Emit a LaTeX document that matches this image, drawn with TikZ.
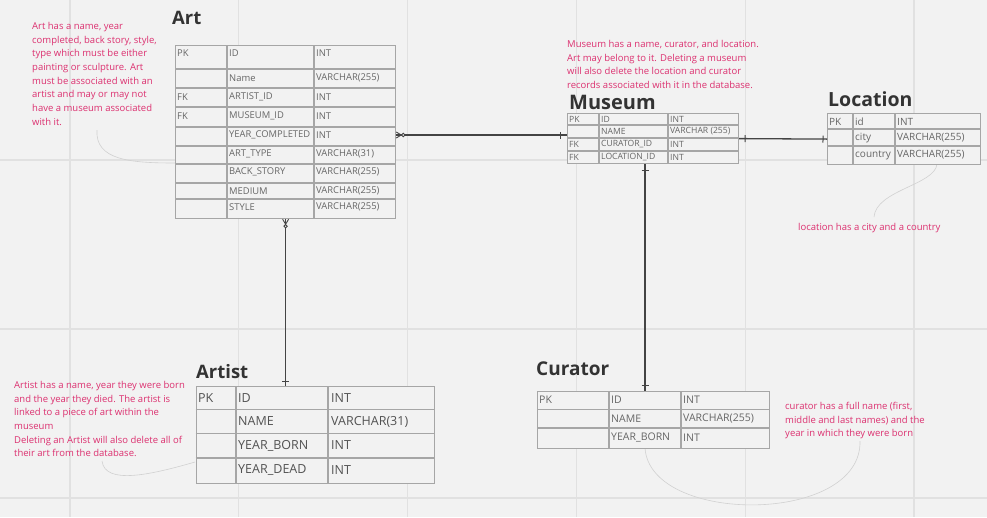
\documentclass[tikz,border=0pt]{standalone}
\usepackage{fontspec}
\setmainfont{Open Sans}
\usepackage{tikz}
\usetikzlibrary{decorations.markings}
\definecolor{bgc}{HTML}{F2F2F2}
\definecolor{gridc}{HTML}{E1E1E1}
\definecolor{tblc}{HTML}{A6A6A6}
\definecolor{txtc}{HTML}{666666}
\definecolor{notec}{HTML}{DC3170}
\definecolor{linkc}{HTML}{444444}
\definecolor{titlec}{HTML}{333333}
\newcommand\fsz[2]{\fontsize{#1}{#2}\selectfont}

\begin{document}
\begin{tikzpicture}[x=1pt, y=-1pt,
  gridl/.style={gridc, line width=1.2pt},
  tbl/.style={draw=tblc, fill=bgc, line width=1.2pt, anchor=north west},
  tline/.style={tblc, line width=1.2pt},
  cell/.style={anchor=west, inner sep=0pt, text=txtc, font=\fsz{#1}{12}},
  title/.style={anchor=west, inner sep=0pt, text=titlec, font=\bfseries\fsz{#1}{24}},
  note/.style={anchor=north west, inner sep=0pt, align=left, text=notec, font=\fsz{9.5}{13.7}},
  noteline/.style={draw=black!18, line width=0.6pt},
  link/.style={linkc, line width=1.3pt},
  onebar/.style={postaction={decorate, decoration={markings,
      mark=at position #1 with {\draw[linkc, line width=1pt] (0pt,-3.5pt) -- (0pt,3.5pt);}}}},
  crowzero/.style={postaction={decorate, decoration={markings,
      mark=at position 0.01pt with {
        \draw[linkc, line width=0.9pt] (5pt,0pt) -- (0pt,3pt) (5pt,0pt) -- (0pt,-3pt);
        \draw[linkc, line width=0.9pt, fill=bgc] (7pt,0pt) circle (1.7pt);}}}}]

  % canvas and grid
  \fill[bgc] (0,0) rectangle (987,517);
  \useasboundingbox (0,0) rectangle (987,517);
  \foreach \x in {70,238.8,407.6,576.4,745.2,914}
    \draw[gridl] (\x,0) -- (\x,517);
  \foreach \y in {160,329,498}
    \draw[gridl] (0,\y) -- (987,\y);

  % notes
  \node[note] (artnote) at (32,22) {Art has a name, year\\completed, back story, style,\\type which must be either\\painting or sculpture. Art\\must be associated with an\\artist and may or may not\\have a museum associated\\with it.};
  \node[note] (museumnote) at (567,40) {Museum has a name, curator, and location.\\Art may belong to it. Deleting a museum\\will also delete the location and curator\\records associated with it in the database.};
  \node[note] (locnote) at (798,223) {location has a city and a country};
  \node[note] (artistnote) at (14,381) {Artist has a name, year they were born\\and the year they died. The artist is\\linked to a piece of art within the\\museum\\Deleting an Artist will also delete all of\\their art from the database.};
  \node[note] (curatornote) at (785,402) {curator has a full name (first,\\middle and last names) and the\\year in which they were born};

  % note leaders
  \draw[noteline] (97,130) .. controls (95,160) and (130,163) .. (175,163);
  \draw[noteline] (102,461) .. controls (105,485) and (150,475) .. (195,462);
  \draw[noteline] (874,217) .. controls (876,190) and (935,185) .. (937,164);
  \draw[noteline] (645,448) .. controls (650,525) and (862,525) .. (860,441);

  % Art
  \node[title=18.5] (arttitle) at (172,18) {Art};
  \node[tbl, minimum width=220pt, minimum height=173pt] (art) at (175,45) {};
  \foreach \y in {69,88,107,127,146,164,183,199}
    \draw[tline] (175,\y) -- (395,\y);
  \foreach \x in {227,314}
    \draw[tline] (\x,45) -- (\x,218);
  \foreach \y/\k/\f/\t [count=\i] in {53/PK/ID/INT, 78//Name/VARCHAR(255),
      97/FK/ARTIST\_ID/INT, 116/FK/MUSEUM\_ID/INT, 135//YEAR\_COMPLETED/INT,
      154//ART\_TYPE/VARCHAR(31), 172//BACK\_STORY/VARCHAR(255),
      191//MEDIUM/VARCHAR(255), 207//STYLE/VARCHAR(255)}{
    \node[cell=9.4] (art-k\i) at (177,\y) {\k};
    \node[cell=9.4] (art-f\i) at (229,\y) {\f};
    \node[cell=9.4] (art-t\i) at (316,\y) {\t};
  }

  % Museum
  \node[title=20] (museumtitle) at (569,102) {Museum};
  \node[tbl, minimum width=171pt, minimum height=50pt] (museum) at (567,113) {};
  \foreach \y in {125,138,151}
    \draw[tline] (567,\y) -- (738,\y);
  \foreach \x in {599,668}
    \draw[tline] (\x,113) -- (\x,163);
  \foreach \y/\k/\f/\t [count=\i] in {119/PK/ID/INT, 131.5//NAME/VARCHAR (255),
      144.5/FK/CURATOR\_ID/INT, 157.5/FK/LOCATION\_ID/INT}{
    \node[cell=8.6] (museum-k\i) at (569,\y) {\k};
    \node[cell=8.6] (museum-f\i) at (601,\y) {\f};
    \node[cell=8.6] (museum-t\i) at (670,\y) {\t};
  }

  % Location
  \node[title=19.5] (locationtitle) at (828,99) {Location};
  \node[tbl, minimum width=153pt, minimum height=51pt] (location) at (827,113) {};
  \foreach \y in {129,146}
    \draw[tline] (827,\y) -- (980,\y);
  \foreach \x in {853,895}
    \draw[tline] (\x,113) -- (\x,164);
  \foreach \y/\k/\f/\t [count=\i] in {121.5/PK/id/INT, 138//city/VARCHAR(255),
      155//country/VARCHAR(255)}{
    \node[cell=10] (location-k\i) at (829,\y) {\k};
    \node[cell=10] (location-f\i) at (855,\y) {\f};
    \node[cell=10] (location-t\i) at (897,\y) {\t};
  }

  % Artist
  \node[title=18.5] (artisttitle) at (196,372) {Artist};
  \node[tbl, minimum width=238.5pt, minimum height=96.5pt] (artist) at (195.5,386) {};
  \foreach \y in {409.5,433.5,458}
    \draw[tline] (195.5,\y) -- (434,\y);
  \foreach \x in {236,328}
    \draw[tline] (\x,386) -- (\x,482.5);
  \foreach \y/\k/\f/\t [count=\i] in {398/PK/ID/INT, 421.5//NAME/VARCHAR(31),
      445.5//YEAR\_BORN/INT, 470//YEAR\_DEAD/INT}{
    \node[cell=12.5, text=black!68] (artist-k\i) at (198,\y) {\k};
    \node[cell=12.5, text=black!68] (artist-f\i) at (238,\y) {\f};
    \node[cell=12.5, text=black!68] (artist-t\i) at (331,\y) {\t};
  }

  % Curator
  \node[title=19] (curatortitle) at (536,369) {Curator};
  \node[tbl, minimum width=232pt, minimum height=56.5pt] (curator) at (537,391) {};
  \foreach \y in {409.5,428}
    \draw[tline] (537,\y) -- (769,\y);
  \foreach \x in {609,681}
    \draw[tline] (\x,391) -- (\x,447.5);
  \foreach \y/\k/\f/\t [count=\i] in {400/PK/ID/INT, 418.5//NAME/VARCHAR(255),
      437.5//YEAR\_BORN/INT}{
    \node[cell=10.5] (curator-k\i) at (539,\y) {\k};
    \node[cell=10.5] (curator-f\i) at (611,\y) {\f};
    \node[cell=10.5] (curator-t\i) at (683,\y) {\t};
  }

  % relations
  \draw[link, crowzero, onebar=-7pt] (art.east |- art-t5) -- (museum.west |- art-t5);
  \draw[link, crowzero, onebar=-4.5pt] (art.south) -- (art.south |- artist.north);
  \draw[link, onebar=6pt, onebar=-4pt] (museum.east) -- (location.west);
  \draw[link, onebar=6pt, onebar=-6pt] ([xshift=-8pt]museum.south) -- ([xshift=-8pt]museum.south |- curator.north);
\end{tikzpicture}
\end{document}
